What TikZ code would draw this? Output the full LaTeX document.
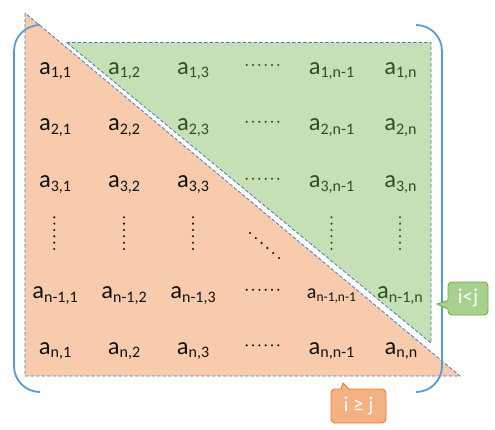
\documentclass[tikz,border=0pt]{standalone}
\usepackage{fontspec}
\setmainfont{Carlito}
\definecolor{ofill}{HTML}{F8CBAD}
\definecolor{gfill}{HTML}{C5E0B4}
\definecolor{dashblue}{HTML}{4A7BC0}
\definecolor{brblue}{HTML}{5B9BD5}
\definecolor{dkgreen}{HTML}{2F4F1E}
\definecolor{txtblack}{HTML}{111111}
\definecolor{cgfill}{HTML}{A9D18E}
\definecolor{cgline}{HTML}{70AD47}
\definecolor{cofill}{HTML}{F4B183}
\definecolor{coline}{HTML}{ED7D31}
\newcommand\ent[2]{a\raisebox{-3.5pt}{\fontsize{16}{16}\selectfont #2}}
\newcommand\myhdots[2]{\foreach \k in {0,...,5}{\fill[#2] (246.7+\k*6.32,#1) circle[radius=1.15pt];}}
\newcommand\myvdots[2]{\foreach \k in {0,...,5}{\fill[#2] (#1,217.3+\k*6.34) circle[radius=1.15pt];}}
\tikzset{
  tri/.style={draw=dashblue, line width=0.8pt, dash pattern=on 3.5pt off 2pt},
  entb/.style={anchor=base, inner sep=0pt, text=txtblack, font=\fontsize{24.5}{28}\selectfont},
  entg/.style={entb, text=dkgreen},
  bracket/.style={draw=brblue, line width=1.8pt, rounded corners=26pt},
  callg/.style={draw=cgline, fill=cgfill, line width=0.9pt, rounded corners=4pt, minimum width=40pt, minimum height=33pt, inner sep=0pt, text=white, font=\fontsize{21}{24}\selectfont},
  callo/.style={draw=coline, fill=cofill, line width=0.9pt, rounded corners=4pt, minimum width=55pt, minimum height=34pt, inner sep=0pt, text=white, font=\fontsize{21}{24}\selectfont},
}
\begin{document}
\begin{tikzpicture}[x=1pt,y=-1pt]
\useasboundingbox (0,0) rectangle (495,429);
% triangles
\filldraw[fill=ofill, tri] (25,13) -- (25,376) -- (460,376) -- cycle;
\filldraw[fill=gfill, tri] (66.5,42.5) -- (431,42.5) -- (431,343) -- cycle;
% row 1
\node[entb] (a11) at (55,74) {\ent{a}{1,1}};
\node[entg] (a12) at (124,74) {\ent{a}{1,2}};
\node[entg] (a13) at (193,74) {\ent{a}{1,3}};
\node[entg] (a1m) at (331.5,74) {\ent{a}{1,n-1}};
\node[entg] (a1n) at (400.5,74) {\ent{a}{1,n}};
% row 2
\node[entb] (a21) at (55,130.5) {\ent{a}{2,1}};
\node[entb] (a22) at (124,130.5) {\ent{a}{2,2}};
\node[entg] (a23) at (193,130.5) {\ent{a}{2,3}};
\node[entg] (a2m) at (331.5,130.5) {\ent{a}{2,n-1}};
\node[entg] (a2n) at (400.5,130.5) {\ent{a}{2,n}};
% row 3
\node[entb] (a31) at (55,187.5) {\ent{a}{3,1}};
\node[entb] (a32) at (124,187.5) {\ent{a}{3,2}};
\node[entb] (a33) at (193,187.5) {\ent{a}{3,3}};
\node[entg] (a3m) at (331.5,187.5) {\ent{a}{3,n-1}};
\node[entg] (a3n) at (400.5,187.5) {\ent{a}{3,n}};
% row n-1
\node[entb] (am1) at (55,298.5) {\ent{a}{n-1,1}};
\node[entb] (am2) at (124,298.5) {\ent{a}{n-1,2}};
\node[entb] (am3) at (193,298.5) {\ent{a}{n-1,3}};
\node[entb, font=\fontsize{20}{24}\selectfont] (amm) at (331.5,298.5) {a\raisebox{-3pt}{\fontsize{13.5}{14}\selectfont n-1,n-1}};
\node[entg] (amn) at (400,298.5) {\ent{a}{n-1,n}};
% row n
\node[entb] (an1) at (55,354) {\ent{a}{n,1}};
\node[entb] (an2) at (124,354) {\ent{a}{n,2}};
\node[entb] (an3) at (193,354) {\ent{a}{n,3}};
\node[entb] (anm) at (331.5,354) {\ent{a}{n,n-1}};
\node[entb] (ann) at (401,354) {\ent{a}{n,n}};
% dots
\myhdots{65}{dkgreen}
\myhdots{121.8}{dkgreen}
\myhdots{178.8}{dkgreen}
\myhdots{289.8}{txtblack}
\myhdots{345.3}{txtblack}
\myvdots{54.3}{txtblack}
\myvdots{124}{txtblack}
\myvdots{193}{txtblack}
\myvdots{331.5}{dkgreen}
\myvdots{400}{dkgreen}
\foreach \k in {0,...,5}{\fill[txtblack] (250+\k*5.8,233+\k*5) circle[radius=1.2pt];}
% brackets
\draw[bracket] (40,25) -- (14,25) -- (14,392) -- (40,392);
\draw[bracket] (416,25) -- (442,25) -- (442,392) -- (416,392);
% callouts
\node[callg] (lt) at (468,298.5) {i<j};
\fill[cgfill] (449,300.5) -- (437,304) -- (449,309) -- cycle;
\draw[cgline, line width=0.9pt, line join=round] (448,300.5) -- (437,304) -- (448,309);
\node[callo] (ge) at (358.5,406) {i ≥ j};
\fill[cofill] (341,390) -- (343,383) -- (349,390) -- cycle;
\draw[coline, line width=0.9pt, line join=round] (341,389) -- (343,383) -- (349,389);
\end{tikzpicture}
\end{document}
